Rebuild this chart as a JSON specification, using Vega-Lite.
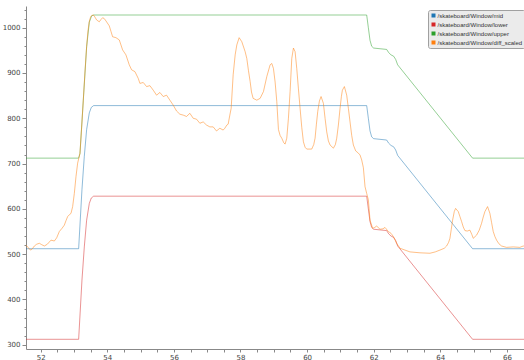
{
  "$schema": "https://vega.github.io/schema/vega-lite/v6.json",
  "width": 498,
  "height": 343,
  "autosize": {"type": "none"},
  "padding": {"left": 26, "top": 6, "right": 0, "bottom": 11},
  "background": "white",
  "config": {
    "view": {"stroke": null},
    "font": "DejaVu Sans",
    "axis": {
      "labelFont": "DejaVu Sans",
      "labelFontSize": 7,
      "labelColor": "#444",
      "domainColor": "#888",
      "tickColor": "#888",
      "grid": false,
      "title": null
    }
  },
  "data": {
    "values": [
      {"series": "/skateboard/Window/mid", "t": 51.5, "v": 512},
      {"series": "/skateboard/Window/mid", "t": 53.14, "v": 512},
      {"series": "/skateboard/Window/mid", "t": 53.24, "v": 643},
      {"series": "/skateboard/Window/mid", "t": 53.31, "v": 716},
      {"series": "/skateboard/Window/mid", "t": 53.38, "v": 775},
      {"series": "/skateboard/Window/mid", "t": 53.46, "v": 812},
      {"series": "/skateboard/Window/mid", "t": 53.52, "v": 824},
      {"series": "/skateboard/Window/mid", "t": 53.59, "v": 828},
      {"series": "/skateboard/Window/mid", "t": 61.79, "v": 828},
      {"series": "/skateboard/Window/mid", "t": 61.84, "v": 800},
      {"series": "/skateboard/Window/mid", "t": 61.89, "v": 772},
      {"series": "/skateboard/Window/mid", "t": 61.94, "v": 759},
      {"series": "/skateboard/Window/mid", "t": 62.0, "v": 755},
      {"series": "/skateboard/Window/mid", "t": 62.39, "v": 752},
      {"series": "/skateboard/Window/mid", "t": 62.45, "v": 745},
      {"series": "/skateboard/Window/mid", "t": 62.52, "v": 740},
      {"series": "/skateboard/Window/mid", "t": 62.6, "v": 737},
      {"series": "/skateboard/Window/mid", "t": 62.66, "v": 730},
      {"series": "/skateboard/Window/mid", "t": 62.72, "v": 718},
      {"series": "/skateboard/Window/mid", "t": 64.97, "v": 512},
      {"series": "/skateboard/Window/mid", "t": 66.6, "v": 512},

      {"series": "/skateboard/Window/lower", "t": 51.5, "v": 312},
      {"series": "/skateboard/Window/lower", "t": 53.14, "v": 312},
      {"series": "/skateboard/Window/lower", "t": 53.24, "v": 443},
      {"series": "/skateboard/Window/lower", "t": 53.31, "v": 516},
      {"series": "/skateboard/Window/lower", "t": 53.38, "v": 575},
      {"series": "/skateboard/Window/lower", "t": 53.46, "v": 612},
      {"series": "/skateboard/Window/lower", "t": 53.52, "v": 624},
      {"series": "/skateboard/Window/lower", "t": 53.59, "v": 628},
      {"series": "/skateboard/Window/lower", "t": 61.79, "v": 628},
      {"series": "/skateboard/Window/lower", "t": 61.84, "v": 600},
      {"series": "/skateboard/Window/lower", "t": 61.89, "v": 572},
      {"series": "/skateboard/Window/lower", "t": 61.94, "v": 559},
      {"series": "/skateboard/Window/lower", "t": 62.0, "v": 555},
      {"series": "/skateboard/Window/lower", "t": 62.39, "v": 552},
      {"series": "/skateboard/Window/lower", "t": 62.45, "v": 545},
      {"series": "/skateboard/Window/lower", "t": 62.52, "v": 540},
      {"series": "/skateboard/Window/lower", "t": 62.6, "v": 537},
      {"series": "/skateboard/Window/lower", "t": 62.66, "v": 530},
      {"series": "/skateboard/Window/lower", "t": 62.72, "v": 518},
      {"series": "/skateboard/Window/lower", "t": 64.97, "v": 312},
      {"series": "/skateboard/Window/lower", "t": 66.6, "v": 312},

      {"series": "/skateboard/Window/upper", "t": 51.5, "v": 712},
      {"series": "/skateboard/Window/upper", "t": 53.14, "v": 712},
      {"series": "/skateboard/Window/upper", "t": 53.18, "v": 722},
      {"series": "/skateboard/Window/upper", "t": 53.28, "v": 840},
      {"series": "/skateboard/Window/upper", "t": 53.38, "v": 958},
      {"series": "/skateboard/Window/upper", "t": 53.46, "v": 1012},
      {"series": "/skateboard/Window/upper", "t": 53.53, "v": 1026},
      {"series": "/skateboard/Window/upper", "t": 53.59, "v": 1028},
      {"series": "/skateboard/Window/upper", "t": 61.79, "v": 1028},
      {"series": "/skateboard/Window/upper", "t": 61.84, "v": 1000},
      {"series": "/skateboard/Window/upper", "t": 61.89, "v": 972},
      {"series": "/skateboard/Window/upper", "t": 61.94, "v": 959},
      {"series": "/skateboard/Window/upper", "t": 62.0, "v": 955},
      {"series": "/skateboard/Window/upper", "t": 62.39, "v": 952},
      {"series": "/skateboard/Window/upper", "t": 62.45, "v": 945},
      {"series": "/skateboard/Window/upper", "t": 62.52, "v": 940},
      {"series": "/skateboard/Window/upper", "t": 62.6, "v": 937},
      {"series": "/skateboard/Window/upper", "t": 62.66, "v": 930},
      {"series": "/skateboard/Window/upper", "t": 62.72, "v": 918},
      {"series": "/skateboard/Window/upper", "t": 64.97, "v": 712},
      {"series": "/skateboard/Window/upper", "t": 66.6, "v": 712},

      {"series": "/skateboard/Window/diff_scaled", "t": 51.56, "v": 520},
      {"series": "/skateboard/Window/diff_scaled", "t": 51.61, "v": 516},
      {"series": "/skateboard/Window/diff_scaled", "t": 51.66, "v": 511},
      {"series": "/skateboard/Window/diff_scaled", "t": 51.71, "v": 509},
      {"series": "/skateboard/Window/diff_scaled", "t": 51.76, "v": 513},
      {"series": "/skateboard/Window/diff_scaled", "t": 51.81, "v": 518},
      {"series": "/skateboard/Window/diff_scaled", "t": 51.88, "v": 522},
      {"series": "/skateboard/Window/diff_scaled", "t": 51.96, "v": 524},
      {"series": "/skateboard/Window/diff_scaled", "t": 52.03, "v": 521},
      {"series": "/skateboard/Window/diff_scaled", "t": 52.11, "v": 518},
      {"series": "/skateboard/Window/diff_scaled", "t": 52.2, "v": 522},
      {"series": "/skateboard/Window/diff_scaled", "t": 52.31, "v": 531},
      {"series": "/skateboard/Window/diff_scaled", "t": 52.41, "v": 529},
      {"series": "/skateboard/Window/diff_scaled", "t": 52.48, "v": 536},
      {"series": "/skateboard/Window/diff_scaled", "t": 52.56, "v": 550},
      {"series": "/skateboard/Window/diff_scaled", "t": 52.64, "v": 557},
      {"series": "/skateboard/Window/diff_scaled", "t": 52.71, "v": 564},
      {"series": "/skateboard/Window/diff_scaled", "t": 52.76, "v": 574},
      {"series": "/skateboard/Window/diff_scaled", "t": 52.81, "v": 583},
      {"series": "/skateboard/Window/diff_scaled", "t": 52.86, "v": 587},
      {"series": "/skateboard/Window/diff_scaled", "t": 52.91, "v": 590},
      {"series": "/skateboard/Window/diff_scaled", "t": 52.96, "v": 605},
      {"series": "/skateboard/Window/diff_scaled", "t": 53.01, "v": 634},
      {"series": "/skateboard/Window/diff_scaled", "t": 53.06, "v": 671},
      {"series": "/skateboard/Window/diff_scaled", "t": 53.11, "v": 701},
      {"series": "/skateboard/Window/diff_scaled", "t": 53.18, "v": 723},
      {"series": "/skateboard/Window/diff_scaled", "t": 53.23, "v": 780},
      {"series": "/skateboard/Window/diff_scaled", "t": 53.28, "v": 840},
      {"series": "/skateboard/Window/diff_scaled", "t": 53.33, "v": 902},
      {"series": "/skateboard/Window/diff_scaled", "t": 53.38, "v": 958},
      {"series": "/skateboard/Window/diff_scaled", "t": 53.42, "v": 993},
      {"series": "/skateboard/Window/diff_scaled", "t": 53.46, "v": 1014},
      {"series": "/skateboard/Window/diff_scaled", "t": 53.5, "v": 1024},
      {"series": "/skateboard/Window/diff_scaled", "t": 53.55, "v": 1028},
      {"series": "/skateboard/Window/diff_scaled", "t": 53.6, "v": 1027},
      {"series": "/skateboard/Window/diff_scaled", "t": 53.68, "v": 1017},
      {"series": "/skateboard/Window/diff_scaled", "t": 53.76, "v": 1013},
      {"series": "/skateboard/Window/diff_scaled", "t": 53.81, "v": 1018},
      {"series": "/skateboard/Window/diff_scaled", "t": 53.86, "v": 1022},
      {"series": "/skateboard/Window/diff_scaled", "t": 53.91, "v": 1020},
      {"series": "/skateboard/Window/diff_scaled", "t": 53.96, "v": 1015},
      {"series": "/skateboard/Window/diff_scaled", "t": 54.06, "v": 1004},
      {"series": "/skateboard/Window/diff_scaled", "t": 54.11, "v": 992},
      {"series": "/skateboard/Window/diff_scaled", "t": 54.16, "v": 980},
      {"series": "/skateboard/Window/diff_scaled", "t": 54.26, "v": 978},
      {"series": "/skateboard/Window/diff_scaled", "t": 54.36, "v": 973},
      {"series": "/skateboard/Window/diff_scaled", "t": 54.41, "v": 962},
      {"series": "/skateboard/Window/diff_scaled", "t": 54.46, "v": 951},
      {"series": "/skateboard/Window/diff_scaled", "t": 54.56, "v": 940},
      {"series": "/skateboard/Window/diff_scaled", "t": 54.66, "v": 918},
      {"series": "/skateboard/Window/diff_scaled", "t": 54.73, "v": 907},
      {"series": "/skateboard/Window/diff_scaled", "t": 54.83, "v": 903},
      {"series": "/skateboard/Window/diff_scaled", "t": 54.93, "v": 888},
      {"series": "/skateboard/Window/diff_scaled", "t": 54.98, "v": 877},
      {"series": "/skateboard/Window/diff_scaled", "t": 55.08, "v": 879},
      {"series": "/skateboard/Window/diff_scaled", "t": 55.18, "v": 870},
      {"series": "/skateboard/Window/diff_scaled", "t": 55.28, "v": 872},
      {"series": "/skateboard/Window/diff_scaled", "t": 55.38, "v": 862},
      {"series": "/skateboard/Window/diff_scaled", "t": 55.48, "v": 851},
      {"series": "/skateboard/Window/diff_scaled", "t": 55.58, "v": 857},
      {"series": "/skateboard/Window/diff_scaled", "t": 55.68, "v": 848},
      {"series": "/skateboard/Window/diff_scaled", "t": 55.78, "v": 851},
      {"series": "/skateboard/Window/diff_scaled", "t": 55.88, "v": 840},
      {"series": "/skateboard/Window/diff_scaled", "t": 55.98, "v": 829},
      {"series": "/skateboard/Window/diff_scaled", "t": 56.08, "v": 816},
      {"series": "/skateboard/Window/diff_scaled", "t": 56.18, "v": 809},
      {"series": "/skateboard/Window/diff_scaled", "t": 56.28, "v": 807},
      {"series": "/skateboard/Window/diff_scaled", "t": 56.38, "v": 804},
      {"series": "/skateboard/Window/diff_scaled", "t": 56.48, "v": 811},
      {"series": "/skateboard/Window/diff_scaled", "t": 56.58, "v": 800},
      {"series": "/skateboard/Window/diff_scaled", "t": 56.68, "v": 798},
      {"series": "/skateboard/Window/diff_scaled", "t": 56.78, "v": 789},
      {"series": "/skateboard/Window/diff_scaled", "t": 56.88, "v": 792},
      {"series": "/skateboard/Window/diff_scaled", "t": 56.98, "v": 785},
      {"series": "/skateboard/Window/diff_scaled", "t": 57.08, "v": 781},
      {"series": "/skateboard/Window/diff_scaled", "t": 57.18, "v": 781},
      {"series": "/skateboard/Window/diff_scaled", "t": 57.28, "v": 772},
      {"series": "/skateboard/Window/diff_scaled", "t": 57.38, "v": 778},
      {"series": "/skateboard/Window/diff_scaled", "t": 57.48, "v": 774},
      {"series": "/skateboard/Window/diff_scaled", "t": 57.53, "v": 778},
      {"series": "/skateboard/Window/diff_scaled", "t": 57.59, "v": 785},
      {"series": "/skateboard/Window/diff_scaled", "t": 57.63, "v": 787},
      {"series": "/skateboard/Window/diff_scaled", "t": 57.68, "v": 807},
      {"series": "/skateboard/Window/diff_scaled", "t": 57.72, "v": 822},
      {"series": "/skateboard/Window/diff_scaled", "t": 57.78, "v": 896},
      {"series": "/skateboard/Window/diff_scaled", "t": 57.84, "v": 940},
      {"series": "/skateboard/Window/diff_scaled", "t": 57.89, "v": 962},
      {"series": "/skateboard/Window/diff_scaled", "t": 57.96, "v": 978},
      {"series": "/skateboard/Window/diff_scaled", "t": 58.04, "v": 969},
      {"series": "/skateboard/Window/diff_scaled", "t": 58.14, "v": 947},
      {"series": "/skateboard/Window/diff_scaled", "t": 58.19, "v": 932},
      {"series": "/skateboard/Window/diff_scaled", "t": 58.24, "v": 905},
      {"series": "/skateboard/Window/diff_scaled", "t": 58.29, "v": 881},
      {"series": "/skateboard/Window/diff_scaled", "t": 58.33, "v": 858},
      {"series": "/skateboard/Window/diff_scaled", "t": 58.38, "v": 844},
      {"series": "/skateboard/Window/diff_scaled", "t": 58.49, "v": 840},
      {"series": "/skateboard/Window/diff_scaled", "t": 58.59, "v": 844},
      {"series": "/skateboard/Window/diff_scaled", "t": 58.69, "v": 859},
      {"series": "/skateboard/Window/diff_scaled", "t": 58.79, "v": 892},
      {"series": "/skateboard/Window/diff_scaled", "t": 58.89, "v": 918},
      {"series": "/skateboard/Window/diff_scaled", "t": 58.94, "v": 921},
      {"series": "/skateboard/Window/diff_scaled", "t": 58.99, "v": 910},
      {"series": "/skateboard/Window/diff_scaled", "t": 59.04, "v": 880},
      {"series": "/skateboard/Window/diff_scaled", "t": 59.09, "v": 837},
      {"series": "/skateboard/Window/diff_scaled", "t": 59.14, "v": 775},
      {"series": "/skateboard/Window/diff_scaled", "t": 59.19, "v": 762},
      {"series": "/skateboard/Window/diff_scaled", "t": 59.24, "v": 756},
      {"series": "/skateboard/Window/diff_scaled", "t": 59.3, "v": 746},
      {"series": "/skateboard/Window/diff_scaled", "t": 59.34, "v": 743},
      {"series": "/skateboard/Window/diff_scaled", "t": 59.39, "v": 756},
      {"series": "/skateboard/Window/diff_scaled", "t": 59.44, "v": 800},
      {"series": "/skateboard/Window/diff_scaled", "t": 59.49, "v": 859},
      {"series": "/skateboard/Window/diff_scaled", "t": 59.54, "v": 932},
      {"series": "/skateboard/Window/diff_scaled", "t": 59.59, "v": 955},
      {"series": "/skateboard/Window/diff_scaled", "t": 59.64, "v": 947},
      {"series": "/skateboard/Window/diff_scaled", "t": 59.69, "v": 910},
      {"series": "/skateboard/Window/diff_scaled", "t": 59.74, "v": 865},
      {"series": "/skateboard/Window/diff_scaled", "t": 59.79, "v": 822},
      {"series": "/skateboard/Window/diff_scaled", "t": 59.84, "v": 780},
      {"series": "/skateboard/Window/diff_scaled", "t": 59.89, "v": 748},
      {"series": "/skateboard/Window/diff_scaled", "t": 59.94, "v": 736},
      {"series": "/skateboard/Window/diff_scaled", "t": 59.99, "v": 732},
      {"series": "/skateboard/Window/diff_scaled", "t": 60.14, "v": 732},
      {"series": "/skateboard/Window/diff_scaled", "t": 60.2, "v": 742},
      {"series": "/skateboard/Window/diff_scaled", "t": 60.24, "v": 756},
      {"series": "/skateboard/Window/diff_scaled", "t": 60.28, "v": 787},
      {"series": "/skateboard/Window/diff_scaled", "t": 60.32, "v": 815},
      {"series": "/skateboard/Window/diff_scaled", "t": 60.37, "v": 838},
      {"series": "/skateboard/Window/diff_scaled", "t": 60.42, "v": 848},
      {"series": "/skateboard/Window/diff_scaled", "t": 60.49, "v": 833},
      {"series": "/skateboard/Window/diff_scaled", "t": 60.54, "v": 800},
      {"series": "/skateboard/Window/diff_scaled", "t": 60.59, "v": 770},
      {"series": "/skateboard/Window/diff_scaled", "t": 60.64, "v": 750},
      {"series": "/skateboard/Window/diff_scaled", "t": 60.69, "v": 741},
      {"series": "/skateboard/Window/diff_scaled", "t": 60.79, "v": 734},
      {"series": "/skateboard/Window/diff_scaled", "t": 60.85, "v": 742},
      {"series": "/skateboard/Window/diff_scaled", "t": 60.89, "v": 756},
      {"series": "/skateboard/Window/diff_scaled", "t": 60.94, "v": 785},
      {"series": "/skateboard/Window/diff_scaled", "t": 60.99, "v": 822},
      {"series": "/skateboard/Window/diff_scaled", "t": 61.03, "v": 848},
      {"series": "/skateboard/Window/diff_scaled", "t": 61.06, "v": 862},
      {"series": "/skateboard/Window/diff_scaled", "t": 61.12, "v": 870},
      {"series": "/skateboard/Window/diff_scaled", "t": 61.19, "v": 851},
      {"series": "/skateboard/Window/diff_scaled", "t": 61.24, "v": 822},
      {"series": "/skateboard/Window/diff_scaled", "t": 61.29, "v": 792},
      {"series": "/skateboard/Window/diff_scaled", "t": 61.34, "v": 762},
      {"series": "/skateboard/Window/diff_scaled", "t": 61.39, "v": 741},
      {"series": "/skateboard/Window/diff_scaled", "t": 61.46, "v": 728},
      {"series": "/skateboard/Window/diff_scaled", "t": 61.54, "v": 723},
      {"series": "/skateboard/Window/diff_scaled", "t": 61.59, "v": 719},
      {"series": "/skateboard/Window/diff_scaled", "t": 61.64, "v": 708},
      {"series": "/skateboard/Window/diff_scaled", "t": 61.69, "v": 691},
      {"series": "/skateboard/Window/diff_scaled", "t": 61.74, "v": 649},
      {"series": "/skateboard/Window/diff_scaled", "t": 61.79, "v": 634},
      {"series": "/skateboard/Window/diff_scaled", "t": 61.84, "v": 620},
      {"series": "/skateboard/Window/diff_scaled", "t": 61.89, "v": 575},
      {"series": "/skateboard/Window/diff_scaled", "t": 61.97, "v": 557},
      {"series": "/skateboard/Window/diff_scaled", "t": 62.03, "v": 559},
      {"series": "/skateboard/Window/diff_scaled", "t": 62.09, "v": 562},
      {"series": "/skateboard/Window/diff_scaled", "t": 62.19, "v": 555},
      {"series": "/skateboard/Window/diff_scaled", "t": 62.28, "v": 556},
      {"series": "/skateboard/Window/diff_scaled", "t": 62.34, "v": 559},
      {"series": "/skateboard/Window/diff_scaled", "t": 62.44, "v": 550},
      {"series": "/skateboard/Window/diff_scaled", "t": 62.52, "v": 546},
      {"series": "/skateboard/Window/diff_scaled", "t": 62.59, "v": 539},
      {"series": "/skateboard/Window/diff_scaled", "t": 62.69, "v": 524},
      {"series": "/skateboard/Window/diff_scaled", "t": 62.79, "v": 513},
      {"series": "/skateboard/Window/diff_scaled", "t": 62.94, "v": 509},
      {"series": "/skateboard/Window/diff_scaled", "t": 63.09, "v": 505},
      {"series": "/skateboard/Window/diff_scaled", "t": 63.39, "v": 503},
      {"series": "/skateboard/Window/diff_scaled", "t": 63.69, "v": 502},
      {"series": "/skateboard/Window/diff_scaled", "t": 63.85, "v": 505},
      {"series": "/skateboard/Window/diff_scaled", "t": 63.99, "v": 509},
      {"series": "/skateboard/Window/diff_scaled", "t": 64.12, "v": 513},
      {"series": "/skateboard/Window/diff_scaled", "t": 64.19, "v": 518},
      {"series": "/skateboard/Window/diff_scaled", "t": 64.25, "v": 526},
      {"series": "/skateboard/Window/diff_scaled", "t": 64.29, "v": 535},
      {"series": "/skateboard/Window/diff_scaled", "t": 64.33, "v": 555},
      {"series": "/skateboard/Window/diff_scaled", "t": 64.37, "v": 575},
      {"series": "/skateboard/Window/diff_scaled", "t": 64.42, "v": 594},
      {"series": "/skateboard/Window/diff_scaled", "t": 64.46, "v": 601},
      {"series": "/skateboard/Window/diff_scaled", "t": 64.54, "v": 594},
      {"series": "/skateboard/Window/diff_scaled", "t": 64.59, "v": 583},
      {"series": "/skateboard/Window/diff_scaled", "t": 64.64, "v": 572},
      {"series": "/skateboard/Window/diff_scaled", "t": 64.69, "v": 560},
      {"series": "/skateboard/Window/diff_scaled", "t": 64.74, "v": 552},
      {"series": "/skateboard/Window/diff_scaled", "t": 64.81, "v": 551},
      {"series": "/skateboard/Window/diff_scaled", "t": 64.89, "v": 553},
      {"series": "/skateboard/Window/diff_scaled", "t": 64.95, "v": 543},
      {"series": "/skateboard/Window/diff_scaled", "t": 64.99, "v": 535},
      {"series": "/skateboard/Window/diff_scaled", "t": 65.09, "v": 542},
      {"series": "/skateboard/Window/diff_scaled", "t": 65.17, "v": 553},
      {"series": "/skateboard/Window/diff_scaled", "t": 65.24, "v": 568},
      {"series": "/skateboard/Window/diff_scaled", "t": 65.29, "v": 582},
      {"series": "/skateboard/Window/diff_scaled", "t": 65.34, "v": 594},
      {"series": "/skateboard/Window/diff_scaled", "t": 65.42, "v": 605},
      {"series": "/skateboard/Window/diff_scaled", "t": 65.49, "v": 590},
      {"series": "/skateboard/Window/diff_scaled", "t": 65.54, "v": 570},
      {"series": "/skateboard/Window/diff_scaled", "t": 65.59, "v": 550},
      {"series": "/skateboard/Window/diff_scaled", "t": 65.64, "v": 539},
      {"series": "/skateboard/Window/diff_scaled", "t": 65.69, "v": 531},
      {"series": "/skateboard/Window/diff_scaled", "t": 65.76, "v": 523},
      {"series": "/skateboard/Window/diff_scaled", "t": 65.84, "v": 518},
      {"series": "/skateboard/Window/diff_scaled", "t": 65.99, "v": 515},
      {"series": "/skateboard/Window/diff_scaled", "t": 66.19, "v": 516},
      {"series": "/skateboard/Window/diff_scaled", "t": 66.39, "v": 515},
      {"series": "/skateboard/Window/diff_scaled", "t": 66.49, "v": 518},
      {"series": "/skateboard/Window/diff_scaled", "t": 66.55, "v": 517}
    ]
  },
  "mark": {"type": "line", "strokeWidth": 1, "strokeOpacity": 0.5, "clip": true, "interpolate": "linear"},
  "encoding": {
    "x": {
      "field": "t",
      "type": "quantitative",
      "scale": {"domain": [51.559, 66.514], "nice": false, "zero": false},
      "axis": {
        "values": [51.5, 52, 52.5, 53, 53.5, 54, 54.5, 55, 55.5, 56, 56.5, 57, 57.5, 58, 58.5, 59, 59.5, 60, 60.5, 61, 61.5, 62, 62.5, 63, 63.5, 64, 64.5, 65, 65.5, 66, 66.5],
        "labelExpr": "datum.value % 2 === 0 ? format(datum.value, 'd') : ''",
        "tickSize": 3,
        "labelPadding": 1,
        "labelFlush": false,
        "labelOverlap": false
      }
    },
    "y": {
      "field": "v",
      "type": "quantitative",
      "scale": {"domain": [290.6, 1047.9], "nice": false, "zero": false},
      "axis": {
        "values": [300, 320, 340, 360, 380, 400, 420, 440, 460, 480, 500, 520, 540, 560, 580, 600, 620, 640, 660, 680, 700, 720, 740, 760, 780, 800, 820, 840, 860, 880, 900, 920, 940, 960, 980, 1000, 1020, 1040],
        "labelExpr": "datum.value % 100 === 0 ? format(datum.value, 'd') : ''",
        "tickSize": {"condition": {"test": "datum.value % 100 === 0", "value": 4}, "value": 2},
        "labelPadding": 2,
        "labelOverlap": false
      }
    },
    "color": {
      "field": "series",
      "type": "nominal",
      "sort": null,
      "scale": {
        "domain": ["/skateboard/Window/mid", "/skateboard/Window/lower", "/skateboard/Window/upper", "/skateboard/Window/diff_scaled"],
        "range": ["#1f77b4", "#d62728", "#2ca02c", "#ff7f0e"]
      },
      "legend": {
        "title": null,
        "orient": "none",
        "legendX": 402,
        "legendY": 4,
        "fillColor": "#ebebeb",
        "strokeColor": "#a0a0a0",
        "cornerRadius": 2,
        "padding": 2.5,
        "rowPadding": 3,
        "symbolType": "square",
        "symbolSize": 16,
        "symbolOpacity": 1,
        "symbolStrokeWidth": 0,
        "labelFont": "Liberation Sans",
        "labelFontSize": 6,
        "labelColor": "#333",
        "labelOffset": 1,
        "labelLimit": 200,
        "encode": {
          "symbols": {"update": {"fill": {"scale": "color", "field": "value"}, "fillOpacity": {"value": 1}, "stroke": {"value": "transparent"}}}
        }
      }
    }
  }
}
